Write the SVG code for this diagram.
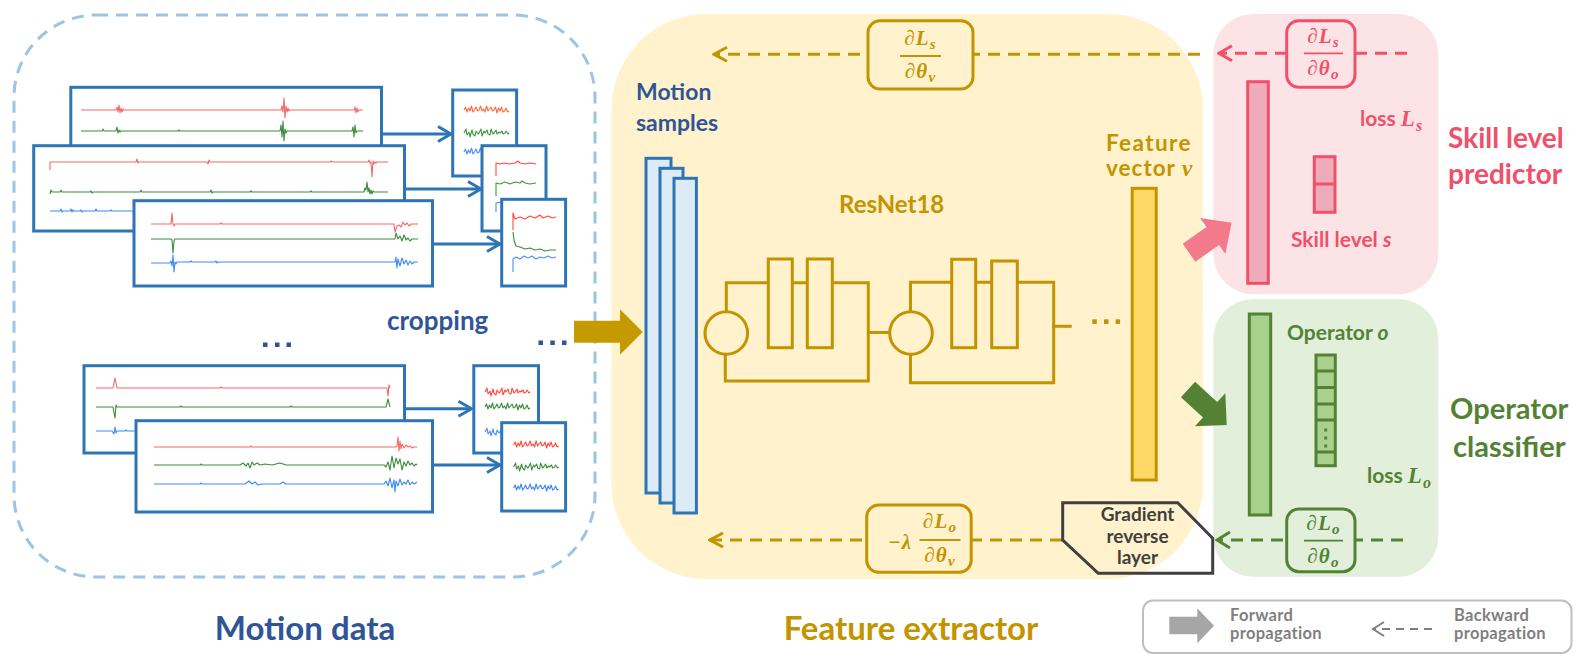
<svg xmlns="http://www.w3.org/2000/svg" xmlns:xlink="http://www.w3.org/1999/xlink" width="1588" height="668" viewBox="0 0 1588 668">
<style>
.lb{font-family:Lato,"Open Sans","Liberation Sans",sans-serif;font-weight:700}
.m{font-family:"Liberation Serif","DejaVu Serif",serif;font-style:italic;font-weight:700;letter-spacing:1.2px}
.gold{fill:#C29400}
.dblue{fill:#2F5597}
.red{fill:#F0506A}
.grn{fill:#548235}
.gray{fill:#7F7F7F}
.box{fill:#fff;stroke:#2E75B6;stroke-width:3}
.sig{fill:none;stroke-width:1.1;stroke-linejoin:round}
.sr{stroke:#F26A6A}
.sg{stroke:#3C8C3C}
.sb{stroke:#3C8CF0}
.cut{fill:none;stroke:#2E75B6;stroke-width:3}
.gline{fill:none;stroke:#C29400;stroke-width:3}
.dash{fill:none;stroke-width:3;stroke-dasharray:12 8}
</style>
<defs>
<marker id="chB" viewBox="-16 -10 18 20" refX="0" refY="0" markerWidth="18" markerHeight="20" markerUnits="userSpaceOnUse" orient="auto"><path d="M-13,-7.5 L0,0 L-13,7.5" fill="none" stroke="#2E75B6" stroke-width="3"/></marker>
<marker id="chGold" viewBox="-16 -10 18 20" refX="0" refY="0" markerWidth="18" markerHeight="20" markerUnits="userSpaceOnUse" orient="auto"><path d="M-13,-7 L0,0 L-13,7" fill="none" stroke="#C29400" stroke-width="3"/></marker>
<marker id="chRed" viewBox="-16 -10 18 20" refX="0" refY="0" markerWidth="18" markerHeight="20" markerUnits="userSpaceOnUse" orient="auto"><path d="M-13,-7.5 L0,0 L-13,7.5" fill="none" stroke="#F0506A" stroke-width="3"/></marker>
<marker id="chGrn" viewBox="-16 -10 18 20" refX="0" refY="0" markerWidth="18" markerHeight="20" markerUnits="userSpaceOnUse" orient="auto"><path d="M-13,-8 L0,0 L-13,8" fill="none" stroke="#548235" stroke-width="3"/></marker>
<marker id="chGray" viewBox="-14 -9 16 18" refX="0" refY="0" markerWidth="16" markerHeight="18" markerUnits="userSpaceOnUse" orient="auto"><path d="M-11,-7 L0,0 L-11,7" fill="none" stroke="#7F7F7F" stroke-width="2"/></marker>
<path id="nzA" d="M0,0 l1.5,-3 l1.5,5 l1.5,-4 l1.5,3 l1.5,-5 l1.5,6 l1.5,-2 l1.5,-3 l1.5,4 l1.5,-1 l1.5,-4 l1.5,5 l1.5,-2 l1.5,3 l1.5,-6 l1.5,5 l1.5,-2 l1.5,-2 l1.5,4 l1.5,-1 l1.5,-3 l1.5,6 l1.5,-5 l1.5,3 l1.5,-4 l1.5,5 l1.5,-1 l1.5,-3 l1.5,4 l1.5,-1"/>
<path id="nzB" d="M0,0 l2,-4 l1,6 l2,-3 l1,5 l2,-7 l1,4 l2,2 l1,-5 l2,3 l1,-1 l2,-4 l1,7 l2,-5 l1,2 l2,-3 l1,4 l2,1 l1,-6 l2,5 l1,-1 l2,-3 l1,4 l2,-2 l1,1 l2,-2 l1,3 l2,-1 l1,-2 l2,3 l1,-1"/>
</defs>

<!-- Motion data region -->
<g id="motion-data">
<rect x="14" y="15" width="581" height="562" rx="82" fill="none" stroke="#9DC3E6" stroke-width="3" stroke-dasharray="12 8"/>
<rect x="70.8" y="87.3" width="310.7" height="86" class="box"/>
<path class="sig sr" d="M81,110 H116 l1,-3 l1,5 l1,-7 l1,8 l1,-5 l1,4 l1,-3 l1,1 H281 l1,-4 l1,6 l1,-14 l1,20 l1,-12 l1,6 l1,-4 l1,3 l1,-1 H354 l1,-3 l1,6 l1,-5 l1,4 l1,-2 H363"/>
<path class="sig sg" d="M81,131 H102 l1,-2 l1,2 H116 l1,-4 l1,6 l1,-3 l1,2 l1,-1 H178 l1,-1 l1,1 H280 l1,-6 l1,12 l1,-16 l1,20 l1,-12 l1,4 l1,-2 H352 l1,-4 l1,10 l1,-12 l1,8 l1,-2 H363"/>
<rect x="33.7" y="145.7" width="370.8" height="85.3" class="box"/>
<path class="sig sr" d="M50,170 L50,162 H136 l1,-3 l1,4 l1,-1 H207 l1,2 l1,-4 l1,2 H330 l1,-1 l1,1 H368 l1,-2 l1,3 l1,-1 l1,15 l1,-16 l1,3 l1,-2 l1,1 l1,-1 H388"/>
<path class="sig sg" d="M50,194 L51,190 L52,192 H60 l1,-2 l1,2 H90 l1,-1 l1,2 l1,-1 H140 l1,-2 l1,2 H210 l1,-2 l1,3 l1,-1 H250 l1,-1 l1,1 H310 l1,-1 l1,1 H364 l1,-4 l1,2 l1,-8 l1,10 l1,-4 l1,6 l1,-4 l1,4 l1,-3 l1,1 H388"/>
<path class="sig sb" d="M50,211 H60 l1,-2 l1,3 l1,-1 H70 l1,-2 l1,3 l1,-2 l1,1 H80 l1,-1 l1,2 l1,-1 H95 l1,-2 l1,2 H110 l1,-1 l1,1 H134"/>
<rect x="134" y="200.7" width="298.5" height="85.3" class="box"/>
<path class="sig sr" d="M151,224 H171 l1,-11 l1,11 l1,2 l1,-2 H220 l1,-1 l1,1 H394 L395,232 L397,226 L399,225 L401,227 L403,222 L405,225 L407,223 L409,226 L411,224 H418"/>
<path class="sig sg" d="M151,239 H171 L172,240 L173,253 L174,241 L175,239 H395 L396,233 L398,239 L400,236 L402,241 L404,235 L406,240 L408,238 L410,241 L412,239 H418"/>
<path class="sig sb" d="M151,263 H170 L171,261 L172,266 L173,255 L174,272 L175,262 L176,264 L177,262 H190 l1,-1 l1,1 H215 l1,-1 l1,2 l1,-1 H395 L396,257 L397,268 L398,259 L400,266 L402,258 L404,264 L406,260 L408,265 L410,261 L412,264 L414,262 H418"/>
<rect x="84" y="365.7" width="320.5" height="87.3" class="box"/>
<path class="sig sr" d="M96,388 H113 L115,378 L117,388 H220 l1,-1 l1,1 H387 L388,396 L389,385 L390,388"/>
<path class="sig sg" d="M96,407 H113 L115,418 L116,405 L117,407 H180 l1,-1 l1,1 H290 l1,-1 l1,1 H386 L388,399 L390,407"/>
<path class="sig sb" d="M96,431 H112 L114,434 L115,427 L116,433 L117,431 H125 l1,-1 l1,1 H136"/>
<rect x="136" y="420.7" width="296.5" height="91.3" class="box"/>
<path class="sig sr" d="M154,447 H250 l1,-1 l1,1 H396 L397,446 L398,437 L399,451 L400,441 L401,449 L402,444 L404,448 L406,445 L408,447 L410,446 L412,448 L414,447 H417"/>
<path class="sig sg" d="M154,465 H200 l1,-1 l1,1 H240 L243,463 L246,466 L248,463 L250,468 L252,462 L254,465 L257,463 L260,465 L265,464 L272,465 L280,463 L286,465 H384 L386,467 L388,462 L390,470 L392,456 L394,468 L396,458 L398,464 L400,459 L402,470 L404,462 L406,466 L408,461 L410,465 L412,463 L414,466 L416,464 L417,465"/>
<path class="sig sb" d="M154,484 H200 l1,-1 l1,1 H245 L249,481 L252,484 L255,482 L258,485 L262,484 H280 L283,482 L286,484 H384 L386,481 L388,486 L390,478 L392,488 L394,480 L395,492 L396,481 L398,486 L400,479 L402,485 L404,482 L406,484 L408,480 L410,485 L412,482 L414,484 L417,482"/>

<!-- cropped samples -->
<rect x="452.7" y="90" width="63.9" height="86" class="box"/>
<use xlink:href="#nzA" x="464" y="110" class="sig" stroke="#FF6A3D"/>
<use xlink:href="#nzB" x="464" y="133" class="sig" stroke="#3C9A3C"/>
<use xlink:href="#nzA" x="464" y="152" class="sig" stroke="#4A90F0"/>
<rect x="482" y="145.7" width="64" height="85.3" class="box"/>
<path class="sig" stroke="#FF4A3D" d="M496,176 V163 L500,164 L505,163 L510,164 L515,163 L518,161 L520,163 L525,164 L530,163 L536,164"/>
<path class="sig" stroke="#3C9A3C" d="M496,196 V183 L500,184 L505,182 L510,184 L515,182 L520,183 L522,181 L525,183 L530,184 L536,183"/>
<path class="sig" stroke="#4A90F0" d="M496,212 V203 L502,202"/>
<rect x="501.7" y="199.3" width="63.9" height="86.7" class="box"/>
<path class="sig" stroke="#FF4A3D" d="M513,230 V213 L515,219 L520,217 L525,219 L530,216 L535,218 L540,215 L543,218 L548,216 L552,218 L556,217"/>
<path class="sig" stroke="#3C8C3C" d="M513,232 L514,240 L516,246 L520,247 L525,249 L530,248 L535,250 L540,249 L545,251 L550,250 L556,250"/>
<path class="sig" stroke="#4A90F0" d="M513,272 V259 L516,257 L520,259 L524,256 L528,258 L532,256 L536,259 L540,257 L544,258 L548,256 L552,258 L556,257"/>
<rect x="473.8" y="365.7" width="64.7" height="87.3" class="box"/>
<use xlink:href="#nzB" x="485" y="392" class="sig" stroke="#FF4A3D"/>
<use xlink:href="#nzA" x="485" y="407" class="sig" stroke="#3C8C3C"/>
<use xlink:href="#nzB" x="485" y="432" class="sig" stroke="#4A90F0"/>
<rect x="501.7" y="422.7" width="63.9" height="88.3" class="box"/>
<use xlink:href="#nzA" x="513.6" y="445" class="sig" stroke="#FF4A3D"/>
<use xlink:href="#nzB" x="513.6" y="467" class="sig" stroke="#3C8C3C"/>
<use xlink:href="#nzA" x="513.6" y="488" class="sig" stroke="#3A86F5"/>

<text x="387" y="330" class="lb dblue" font-size="26">cropping</text>
<g class="dblue"><rect x="263" y="342.5" width="4.5" height="4.5"/><rect x="275" y="342.5" width="4.5" height="4.5"/><rect x="286.5" y="342.5" width="4.5" height="4.5"/>
<rect x="538.5" y="340.5" width="4.5" height="4.5"/><rect x="550.3" y="340.5" width="4.5" height="4.5"/><rect x="562" y="340.5" width="4.5" height="4.5"/></g>
<text x="305" y="640" class="lb dblue" font-size="33" text-anchor="middle">Motion data</text>
</g>

<!-- background regions -->
<g id="feature-extractor">
<rect x="611.5" y="14" width="591.5" height="565" rx="95" fill="#FFF2CC"/>
<text x="911" y="640" class="lb gold" font-size="33" text-anchor="middle">Feature extractor</text>
</g>
<g id="skill-level-predictor">
<rect x="1213.3" y="14" width="225" height="280.3" rx="40" fill="#FCE4E6"/>
<text x="1448" y="148" class="lb red" font-size="28">Skill level</text>
<text x="1448" y="184" class="lb red" font-size="28">predictor</text>
</g>
<g id="operator-classifier">
<rect x="1213.3" y="299" width="225" height="277.7" rx="40" fill="#E2EFDA"/>
<text x="1450" y="419" class="lb grn" font-size="29">Operator</text>
<text x="1453" y="457" class="lb grn" font-size="29">classifier</text>
</g>

<!-- connectors -->
<g id="connectors">
<line x1="381.5" y1="134" x2="451" y2="134" class="cut" marker-end="url(#chB)"/>
<line x1="404.5" y1="189" x2="481" y2="189" class="cut" marker-end="url(#chB)"/>
<line x1="432.5" y1="244" x2="500" y2="244" class="cut" marker-end="url(#chB)"/>
<line x1="404.5" y1="408.7" x2="471.5" y2="408.7" class="cut" marker-end="url(#chB)"/>
<line x1="432.5" y1="465" x2="500" y2="465" class="cut" marker-end="url(#chB)"/>
<polygon points="574,320.7 620,320.7 620,309.3 642.7,332 620,354.7 620,342.7 574,342.7" fill="#C49A00"/>
<path d="M0,-11 L29,-11 L29,-22 L52,0 L29,22 L29,11 L0,11 Z" transform="translate(1189,252.7) rotate(-35)" fill="#F37A8B"/>
<path d="M0,-10.5 L30,-10.5 L30,-22.5 L52.5,0 L30,22.5 L30,10.5 L0,10.5 Z" transform="translate(1188,389.5) rotate(42.5)" fill="#548235"/>
<line x1="1200" y1="54.3" x2="714" y2="54.3" class="dash" stroke="#C29400" marker-end="url(#chGold)"/>
<line x1="1062" y1="540" x2="710" y2="540" class="dash" stroke="#C29400" marker-end="url(#chGold)"/>
<line x1="1407" y1="53.3" x2="1219" y2="53.3" class="dash" stroke="#F0506A" marker-end="url(#chRed)"/>
<line x1="1403" y1="540" x2="1217" y2="540" class="dash" stroke="#548235" marker-end="url(#chGrn)"/>
</g>

<!-- motion samples -->
<g id="motion-samples">
<rect x="646" y="158.3" width="25" height="334.7" fill="#DDEBF7" stroke="#2E75B6" stroke-width="3"/>
<rect x="660" y="168.3" width="23" height="334.7" fill="#DDEBF7" stroke="#2E75B6" stroke-width="3"/>
<rect x="674" y="178.3" width="22.4" height="334.7" fill="#DDEBF7" stroke="#2E75B6" stroke-width="3"/>
<text x="636" y="100" class="lb dblue" font-size="23">Motion</text>
<text x="636" y="131" class="lb dblue" font-size="23">samples</text>
</g>

<!-- ResNet18 -->
<g id="resnet18">
<text x="839" y="213" class="lb gold" font-size="24">ResNet18</text>
<circle cx="726.3" cy="333" r="21.3" class="gline"/>
<path class="gline" d="M726.3,311.7 V282.7 H768.3 M792.3,282.7 H807.3 M832.3,282.7 H868.3 V381 H725.3 V354.3 M868.3,332.5 H889.7"/>
<rect x="768.3" y="259" width="24" height="88.7" class="gline"/>
<rect x="807.3" y="259" width="25" height="88.7" class="gline"/>
<circle cx="911" cy="333" r="21.3" class="gline"/>
<path class="gline" d="M910.5,311.7 V282.3 H951.7 M975.7,282.3 H991.7 M1017.3,282.3 H1053.7 V382.7 H910.5 V354.3 M1052,326.3 H1071.7"/>
<rect x="951.7" y="259.3" width="24" height="88.4" class="gline"/>
<rect x="991.7" y="261" width="25.6" height="86.7" class="gline"/>
<g class="gold"><rect x="1092.3" y="319.3" width="4.5" height="4.6"/><rect x="1104" y="319.3" width="4.5" height="4.6"/><rect x="1115.6" y="319.3" width="4.5" height="4.6"/></g>
</g>

<!-- feature vector -->
<g id="feature-vector">
<rect x="1132.2" y="188.3" width="24" height="291.7" fill="#FFD966" stroke="#C29400" stroke-width="3"/>
<text x="1106" y="151" class="lb gold" font-size="22.5" letter-spacing="1.4">Feature</text>
<text x="1106" y="176" class="lb gold" font-size="22.5" letter-spacing="1">vector <tspan font-family="Liberation Serif,serif" font-style="italic" font-weight="700" font-size="23">v</tspan></text>
</g>

<!-- gradient boxes -->
<g id="grad-s-v">
<rect x="868" y="20.7" width="105" height="68.3" rx="12" fill="#FFF2CC" stroke="#C29400" stroke-width="3"/>
<text x="920.5" y="45" class="m gold" font-size="21" text-anchor="middle">∂L<tspan font-size="15" dy="4">s</tspan></text>
<line x1="900" y1="56" x2="941" y2="56" stroke="#C29400" stroke-width="1.8"/>
<text x="920.5" y="78" class="m gold" font-size="21" text-anchor="middle">∂θ<tspan font-size="15" dy="4">v</tspan></text>
</g>
<g id="grad-o-v">
<rect x="866.7" y="505" width="104.5" height="67.3" rx="12" fill="#FFF2CC" stroke="#C29400" stroke-width="3"/>
<text x="900" y="549" class="m gold" font-size="21" text-anchor="middle">−λ</text>
<text x="940" y="527.5" class="m gold" font-size="21" text-anchor="middle">∂L<tspan font-size="15" dy="4">o</tspan></text>
<line x1="919.5" y1="540" x2="960.5" y2="540" stroke="#C29400" stroke-width="1.8"/>
<text x="940" y="562" class="m gold" font-size="21" text-anchor="middle">∂θ<tspan font-size="15" dy="4">v</tspan></text>
</g>
<g id="grad-s-o">
<rect x="1286.7" y="20.7" width="68.3" height="66.6" rx="12" fill="#FCE4E6" stroke="#F0506A" stroke-width="3"/>
<text x="1323.5" y="43" class="m red" font-size="21" text-anchor="middle">∂L<tspan font-size="15" dy="4">s</tspan></text>
<line x1="1304" y1="53.3" x2="1343" y2="53.3" stroke="#F0506A" stroke-width="1.8"/>
<text x="1323.5" y="75" class="m red" font-size="21" text-anchor="middle">∂θ<tspan font-size="15" dy="4">o</tspan></text>
</g>
<g id="grad-o-o">
<rect x="1286.7" y="509" width="68.3" height="62.7" rx="12" fill="#E2EFDA" stroke="#548235" stroke-width="3"/>
<text x="1323.5" y="530" class="m grn" font-size="21" text-anchor="middle">∂L<tspan font-size="15" dy="4">o</tspan></text>
<line x1="1304" y1="540.7" x2="1343" y2="540.7" stroke="#548235" stroke-width="1.8"/>
<text x="1323.5" y="563" class="m grn" font-size="21" text-anchor="middle">∂θ<tspan font-size="15" dy="4">o</tspan></text>
</g>

<!-- gradient reverse layer -->
<g id="gradient-reverse-layer">
<polygon points="1062.7,502.7 1177.7,502.7 1212.7,538.3 1212.7,573.3 1098.3,573.3 1062.7,540" fill="none" stroke="#404040" stroke-width="3"/>
<g class="lb" fill="#404040" font-size="19" text-anchor="middle">
<text x="1137.5" y="520.5">Gradient</text>
<text x="1137.5" y="543">reverse</text>
<text x="1137.5" y="563.5">layer</text>
</g>
</g>

<!-- skill predictor contents -->
<g id="skill-head">
<rect x="1247.7" y="81.7" width="20.6" height="201.6" fill="#EEABBA" stroke="#F0506A" stroke-width="3"/>
<rect x="1314.3" y="156.7" width="20.7" height="55.6" fill="#EEABBA" stroke="#F0506A" stroke-width="3"/>
<line x1="1314.3" y1="184" x2="1335" y2="184" stroke="#F0506A" stroke-width="3"/>
<text x="1360" y="126" class="lb red" font-size="21">loss <tspan class="m" font-size="23">L</tspan><tspan class="m" font-size="16" dy="5">s</tspan></text>
<text x="1291" y="247" class="lb red" font-size="21">Skill level <tspan font-style="italic">s</tspan></text>
</g>

<!-- operator classifier contents -->
<g id="operator-head">
<rect x="1249.3" y="314" width="21.4" height="201" fill="#A9D18E" stroke="#548235" stroke-width="3"/>
<rect x="1316" y="355" width="19.3" height="110.7" fill="#A9D18E" stroke="#548235" stroke-width="3"/>
<path d="M1316,371 H1335.3 M1316,387.5 H1335.3 M1316,404 H1335.3 M1316,420 H1335.3 M1316,452 H1335.3" stroke="#548235" stroke-width="3"/>
<g class="grn"><rect x="1324.2" y="428.5" width="3" height="3"/><rect x="1324.2" y="436.5" width="3" height="3"/><rect x="1324.2" y="444.5" width="3" height="3"/></g>
<text x="1287" y="340" class="lb grn" font-size="21">Operator <tspan font-style="italic">o</tspan></text>
<text x="1367" y="483" class="lb grn" font-size="21">loss <tspan class="m" font-size="23">L</tspan><tspan class="m" font-size="16" dy="5">o</tspan></text>
</g>

<!-- legend -->
<g id="legend">
<rect x="1143" y="600.5" width="428.5" height="52.5" rx="10" fill="#fff" stroke="#BFBFBF" stroke-width="2"/>
<polygon points="1169.3,616.7 1197.3,616.7 1197.3,608.3 1214,625.8 1197.3,643.3 1197.3,634.3 1169.3,634.3" fill="#A6A6A6"/>
<g class="lb gray" font-size="16.5" letter-spacing="0.3">
<text x="1230" y="620.5">Forward</text>
<text x="1230" y="638.5">propagation</text>
<text x="1454" y="620.5">Backward</text>
<text x="1454" y="638.5">propagation</text>
</g>
<line x1="1432" y1="629" x2="1373" y2="629" stroke="#7F7F7F" stroke-width="2" stroke-dasharray="8 6" marker-end="url(#chGray)"/>
</g>
</svg>
